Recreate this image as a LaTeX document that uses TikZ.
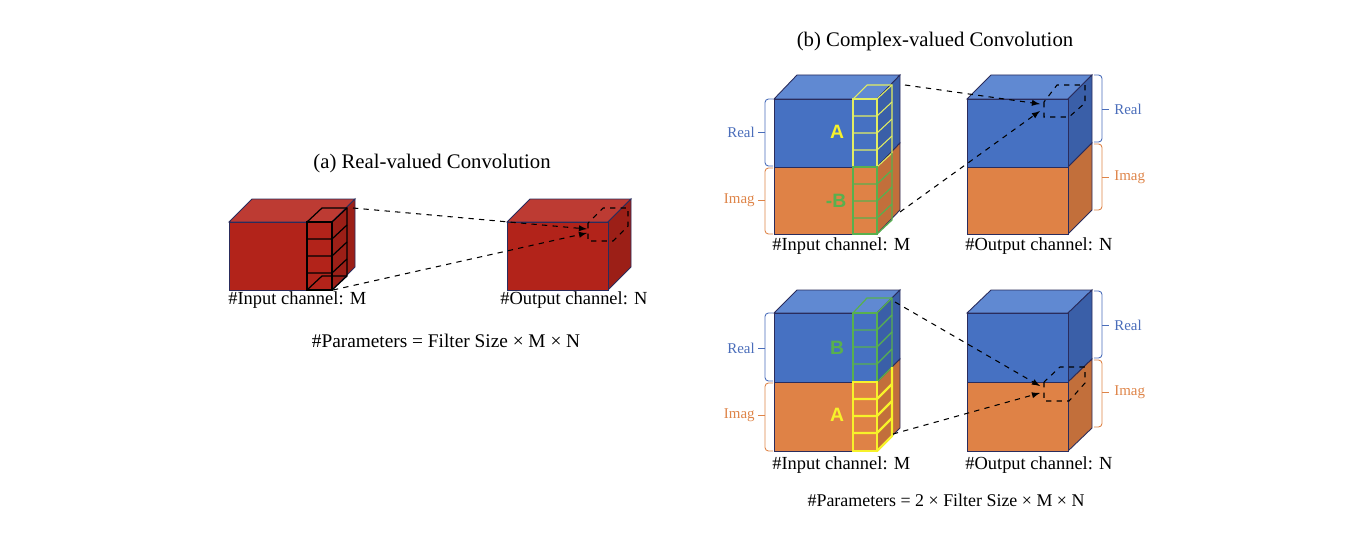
\documentclass[tikz,border=0pt]{standalone}
\usepackage{fontspec}
\setmainfont{Liberation Serif}
\newfontfamily\sansfont{Liberation Sans}
\usepackage{xcolor}
\definecolor{edgec}{HTML}{2A2C5C}
\definecolor{redfront}{HTML}{B2231A}
\definecolor{redtop}{HTML}{BD3B33}
\definecolor{redside}{HTML}{9C1F17}
\definecolor{bluefront}{HTML}{4671C2}
\definecolor{bluetop}{HTML}{6089D2}
\definecolor{blueside}{HTML}{3A5FA8}
\definecolor{orfront}{HTML}{DF8246}
\definecolor{orside}{HTML}{C26F3B}
\definecolor{bluetxt}{HTML}{4A6DBA}
\definecolor{ortxt}{HTML}{DE8448}
\definecolor{yelpale}{HTML}{E2EE62}
\definecolor{yelbright}{HTML}{F7F22A}
\definecolor{grn}{HTML}{58B04E}

\begin{document}
\begin{tikzpicture}[
  x=0.02cm, y=-0.02cm,
  edge/.style={draw=edgec,line width=0.5pt},
  filt/.style={draw=black,line width=0.7pt},
  yfilt/.style={draw=yelpale,line width=0.6pt},
  yfiltb/.style={draw=yelbright,line width=1.3pt},
  gfilt/.style={draw=grn,line width=0.7pt},
  tgt/.style={draw=black,dashed,line width=0.6pt},
  conn/.style={draw=black,dashed,line width=0.6pt,-latex},
  lbl/.style={font=\fontsize{10.5}{12}\selectfont,inner sep=0pt},
  ttl/.style={font=\fontsize{11.8}{14}\selectfont,inner sep=0pt},
  part/.style={font=\fontsize{8.5}{10}\selectfont,inner sep=0pt},
  letter/.style={font=\sansfont\bfseries\fontsize{11}{13}\selectfont,inner sep=0pt},
  brk/.style={line width=0.5pt,rounded corners=2pt}
]
  \useasboundingbox (0,0) rectangle (1372,554);

  % (a) real-valued
  \node[ttl] (ta) at (432,164) {(a) Real-valued Convolution};
  \filldraw[edge,fill=redtop] (229,222) -- (252,199) -- (355,199) -- (332,222) -- cycle;
  \filldraw[edge,fill=redside] (332,222) -- (355,199) -- (355,267) -- (332,290) -- cycle;
  \filldraw[edge,fill=redfront] (229,222) rectangle (332,290);
  \draw[filt] (307,222) -- (322,208) -- (347,208) -- (347,276) -- (332,290);
  \draw[filt] (332,222) -- (347,208);
  \draw[filt] (307,222) rectangle (332,290);
  \foreach \y in {239,256,273} \draw[filt] (307,\y) -- (332,\y) -- (347,\y-14);
  \draw[filt] (307,290) -- (322,276) -- (347,276);
  \filldraw[edge,fill=redtop] (507,222) -- (530,199) -- (631,199) -- (608,222) -- cycle;
  \filldraw[edge,fill=redside] (608,222) -- (631,199) -- (631,267) -- (608,290) -- cycle;
  \filldraw[edge,fill=redfront] (507,222) rectangle (608,290);
  \draw[tgt] (588,223) -- (588,241) -- (613,241) -- (628,226) -- (628,208) -- (603,208) -- cycle;
  \coordinate (fa1) at (353,208);
  \coordinate (fa2) at (333,290);
  \coordinate (oa1) at (587,229);
  \coordinate (oa2) at (587,233);
  \draw[conn] (fa1) -- (oa1);
  \draw[conn] (fa2) -- (oa2);
  \node[lbl,anchor=base west] (ina) at (228,304) {\#Input channel: M};
  \node[lbl,anchor=base west] (outa) at (500,304) {\#Output channel: N};
  \node[lbl,font=\fontsize{11}{13}\selectfont] (pa) at (446,341) {\#Parameters = Filter Size × M × N};

  % (b) complex-valued
  \node[ttl] (tb) at (935,42) {(b) Complex-valued Convolution};

  % upper row
  \filldraw[edge,fill=bluetop] (774,99) -- (797,75) -- (900,75) -- (877,99) -- cycle;
  \filldraw[edge,fill=blueside] (877,99) -- (900,75) -- (900,143) -- (877,167) -- cycle;
  \filldraw[edge,fill=orside] (877,167) -- (900,143) -- (900,210) -- (877,234) -- cycle;
  \filldraw[edge,fill=bluefront] (774,99) rectangle (877,167);
  \filldraw[edge,fill=orfront] (774,167) rectangle (877,234);
  \draw[yfilt] (853,99) -- (867,85) -- (892,85) -- (892,153) -- (877,167);
  \draw[yfilt] (877,99) -- (892,85);
  \draw[yfilt] (853,99) rectangle (877,167);
  \foreach \y in {116,133,150} \draw[yfilt] (853,\y) -- (877,\y) -- (892,\y-14);
  \draw[gfilt] (892,153) -- (892,220) -- (877,234);
  \draw[gfilt] (853,167) rectangle (877,234);
  \foreach \y in {184,201,218} \draw[gfilt] (853,\y) -- (877,\y) -- (892,\y-14);
  \node[letter,text=yelbright] (la1) at (837,132) {A};
  \node[letter,text=grn] (lb1) at (836,201) {-B};

  \filldraw[edge,fill=bluetop] (967,99) -- (991,75) -- (1092,75) -- (1068,99) -- cycle;
  \filldraw[edge,fill=blueside] (1068,99) -- (1092,75) -- (1092,143) -- (1068,167) -- cycle;
  \filldraw[edge,fill=orside] (1068,167) -- (1092,143) -- (1092,210) -- (1068,234) -- cycle;
  \filldraw[edge,fill=bluefront] (967,99) rectangle (1068,167);
  \filldraw[edge,fill=orfront] (967,167) rectangle (1068,234);
  \draw[tgt] (1044,102) -- (1044,117) -- (1069,117) -- (1085,103) -- (1085,85) -- (1057,85) -- cycle;
  \coordinate (fb1) at (905,85);
  \coordinate (fb2) at (900,212);
  \coordinate (ob1) at (1040,104);
  \coordinate (ob2) at (1040,111);
  \draw[conn] (fb1) -- (ob1);
  \draw[conn] (fb2) -- (ob2);

  \draw[brk,bluetxt] (773,99) -- (765,99) -- (765,166) -- (773,166);
  \draw[bluetxt,line width=0.5pt] (765,132) -- (758,132);
  \draw[brk,ortxt] (773,168) -- (765,168) -- (765,234) -- (773,234);
  \draw[ortxt,line width=0.5pt] (765,200) -- (758,200);
  \node[part,text=bluetxt,anchor=east] (re1) at (755,132) {Real};
  \node[part,text=ortxt,anchor=east] (im1) at (755,200) {Imag};
  \draw[brk,bluetxt] (1094,75) -- (1102,75) -- (1102,142) -- (1094,142);
  \draw[bluetxt,line width=0.5pt] (1102,109) -- (1109,109);
  \draw[brk,ortxt] (1094,144) -- (1102,144) -- (1102,210) -- (1094,210);
  \draw[ortxt,line width=0.5pt] (1102,177) -- (1109,177);
  \node[part,text=bluetxt,anchor=west] (re2) at (1114,109) {Real};
  \node[part,text=ortxt,anchor=west] (im2) at (1114,177) {Imag};
  \node[lbl,anchor=base west] (inb1) at (772,250) {\#Input channel: M};
  \node[lbl,anchor=base west] (outb1) at (965,250) {\#Output channel: N};

  % lower row
  \filldraw[edge,fill=bluetop] (774,313) -- (797,290) -- (900,290) -- (877,313) -- cycle;
  \filldraw[edge,fill=blueside] (877,313) -- (900,290) -- (900,359) -- (877,382) -- cycle;
  \filldraw[edge,fill=orside] (877,382) -- (900,359) -- (900,428) -- (877,451) -- cycle;
  \filldraw[edge,fill=bluefront] (774,313) rectangle (877,382);
  \filldraw[edge,fill=orfront] (774,382) rectangle (877,451);
  \draw[gfilt] (853,313) -- (867,298) -- (892,298) -- (892,367) -- (877,382);
  \draw[gfilt] (877,313) -- (892,298);
  \draw[gfilt] (853,313) rectangle (877,382);
  \foreach \y in {330,347,364} \draw[gfilt] (853,\y) -- (877,\y) -- (892,\y-15);
  \draw[yfiltb] (892,367) -- (892,436) -- (877,451);
  \draw[yfiltb] (853,382) rectangle (877,451);
  \foreach \y in {399,416,433} \draw[yfiltb] (853,\y) -- (877,\y) -- (892,\y-15);
  \node[letter,text=grn] (lb2) at (837,348) {B};
  \node[letter,text=yelbright] (la2) at (837,415) {A};

  \filldraw[edge,fill=bluetop] (967,313) -- (991,290) -- (1092,290) -- (1068,313) -- cycle;
  \filldraw[edge,fill=blueside] (1068,313) -- (1092,290) -- (1092,359) -- (1068,382) -- cycle;
  \filldraw[edge,fill=orside] (1068,382) -- (1092,359) -- (1092,428) -- (1068,451) -- cycle;
  \filldraw[edge,fill=bluefront] (967,313) rectangle (1068,382);
  \filldraw[edge,fill=orfront] (967,382) rectangle (1068,451);
  \draw[tgt] (1044,382) -- (1044,401) -- (1069,401) -- (1085,383) -- (1085,367) -- (1060,367) -- cycle;
  \coordinate (fc1) at (895,302);
  \coordinate (fc2) at (893,434);
  \coordinate (oc1) at (1040,386);
  \coordinate (oc2) at (1040,393);
  \draw[conn] (fc1) -- (oc1);
  \draw[conn] (fc2) -- (oc2);

  \draw[brk,bluetxt] (773,313) -- (765,313) -- (765,381) -- (773,381);
  \draw[bluetxt,line width=0.5pt] (765,348) -- (758,348);
  \draw[brk,ortxt] (773,383) -- (765,383) -- (765,451) -- (773,451);
  \draw[ortxt,line width=0.5pt] (765,415) -- (758,415);
  \node[part,text=bluetxt,anchor=east] (re3) at (755,348) {Real};
  \node[part,text=ortxt,anchor=east] (im3) at (755,415) {Imag};
  \draw[brk,bluetxt] (1094,291) -- (1102,291) -- (1102,358) -- (1094,358);
  \draw[bluetxt,line width=0.5pt] (1102,325) -- (1109,325);
  \draw[brk,ortxt] (1094,360) -- (1102,360) -- (1102,427) -- (1094,427);
  \draw[ortxt,line width=0.5pt] (1102,392) -- (1109,392);
  \node[part,text=bluetxt,anchor=west] (re4) at (1114,325) {Real};
  \node[part,text=ortxt,anchor=west] (im4) at (1114,392) {Imag};
  \node[lbl,anchor=base west] (inb2) at (772,469) {\#Input channel: M};
  \node[lbl,anchor=base west] (outb2) at (965,469) {\#Output channel: N};
  \node[lbl,font=\fontsize{10.2}{12}\selectfont] (pb) at (946,500) {\#Parameters = 2 × Filter Size × M × N};
\end{tikzpicture}
\end{document}
